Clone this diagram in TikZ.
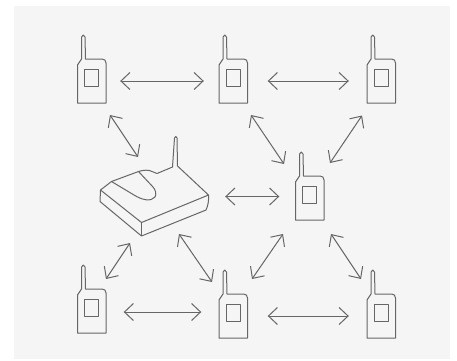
\documentclass[tikz,border=0pt]{standalone}
\usepackage{amsmath}
\usepackage{color}
\usetikzlibrary{calc}
\usetikzlibrary{arrows.meta}
\definecolor{panelgray}{HTML}{F5F5F5}
\definecolor{linegray}{HTML}{666666}
\tikzset{
  outline/.style={draw=linegray,line width=1pt,line join=round},
  link/.style={outline,{Straight Barb[length=9pt,width=17pt,line width=1pt]}-{Straight Barb[length=9pt,width=17pt,line width=1pt]}},
  radiobox/.style={inner sep=0pt,minimum width=28.5pt,minimum height=44pt},
}
\begin{document}
\begin{tikzpicture}[x=1pt,y=-1pt]
\useasboundingbox (0,0) rectangle (457,360);
\fill[panelgray] (14,6) rectangle (450,359);

% radios
\foreach \n/\x/\y in {1/91.75/81,2/233.25/81,3/381.25/81,4/309.75/198,5/91.75/311,6/233.25/316,7/381.25/316}{
  \node[radiobox] (r\n) at (\x,\y) {};
  \begin{scope}[shift={(\x,\y)}]
    \draw[outline] (-14.25,22) -- (-14.25,-16) -- (-10.25,-22) -- (-10.25,-44)
      .. controls (-10.25,-46.5) and (-6.75,-46.5) .. (-6.75,-44) -- (-6.25,-22) -- (10.25,-22)
      .. controls (12.75,-22) and (14.25,-20.5) .. (14.25,-18) -- (14.25,22) -- cycle;
    \draw[outline] (-7.25,-11.5) rectangle (6.75,5.5);
  \end{scope}
}

% router
\node[inner sep=0pt,minimum width=108pt,minimum height=99pt] (router) at (154.5,196.5) {};
\draw[outline] (100.5,190) -- (111.5,181.5) -- (138.5,171.5) .. controls (143,170) and (149,169.5) .. (152,171.5)
  -- (157,173.5) -- (172.5,167) -- (174.5,138) .. controls (174.7,136) and (177,136) .. (177,138)
  -- (177.5,166) -- (208.5,195) -- (141.5,222.5) -- cycle;
\draw[outline] (100.5,190) -- (100,201.5) -- (141.5,236) -- (206,210) .. controls (208,206) and (209,200) .. (208.5,195);
\draw[outline] (141.5,222.5) -- (141.5,236);
\draw[outline] (111.5,181.5) -- (134,195) .. controls (142,200) and (151,202) .. (155,197)
  .. controls (157,194) and (155,189) .. (153,187) -- (138.5,171.5);

% links along the rows
\draw[link,shorten <=14pt,shorten >=15pt] (r1) -- (r2);
\draw[link,shorten <=20pt,shorten >=18pt] (r2.east) -- (r3.west);
\draw[link,shorten <=16.5pt,shorten >=16pt] (router.east) -- (router.east -| r4.west);
\coordinate (e5) at ($(r5.east)+(0,1)$);
\draw[link,shorten <=17.5pt,shorten >=17.5pt] (e5) -- (e5 -| r6.west);
\draw[link,shorten <=20pt,shorten >=18pt] (r6.east) -- (r7.west);

% links on the slant
\coordinate (a1) at (110,115);   \coordinate (b1) at (138,157);
\coordinate (a2) at (251,115);   \coordinate (b2) at (284,164);
\coordinate (a3) at (362,115.5); \coordinate (b3) at (330,163);
\coordinate (a4) at (179,234);   \coordinate (b4) at (212,282);
\coordinate (a5) at (130,243);   \coordinate (b5) at (106,279);
\coordinate (a6) at (283,234);   \coordinate (b6) at (252,279);
\coordinate (a7) at (331,234);   \coordinate (b7) at (361,279);
\foreach \k in {1,...,7}{
  \draw[link] (a\k) -- (b\k);
}
\end{tikzpicture}
\end{document}
